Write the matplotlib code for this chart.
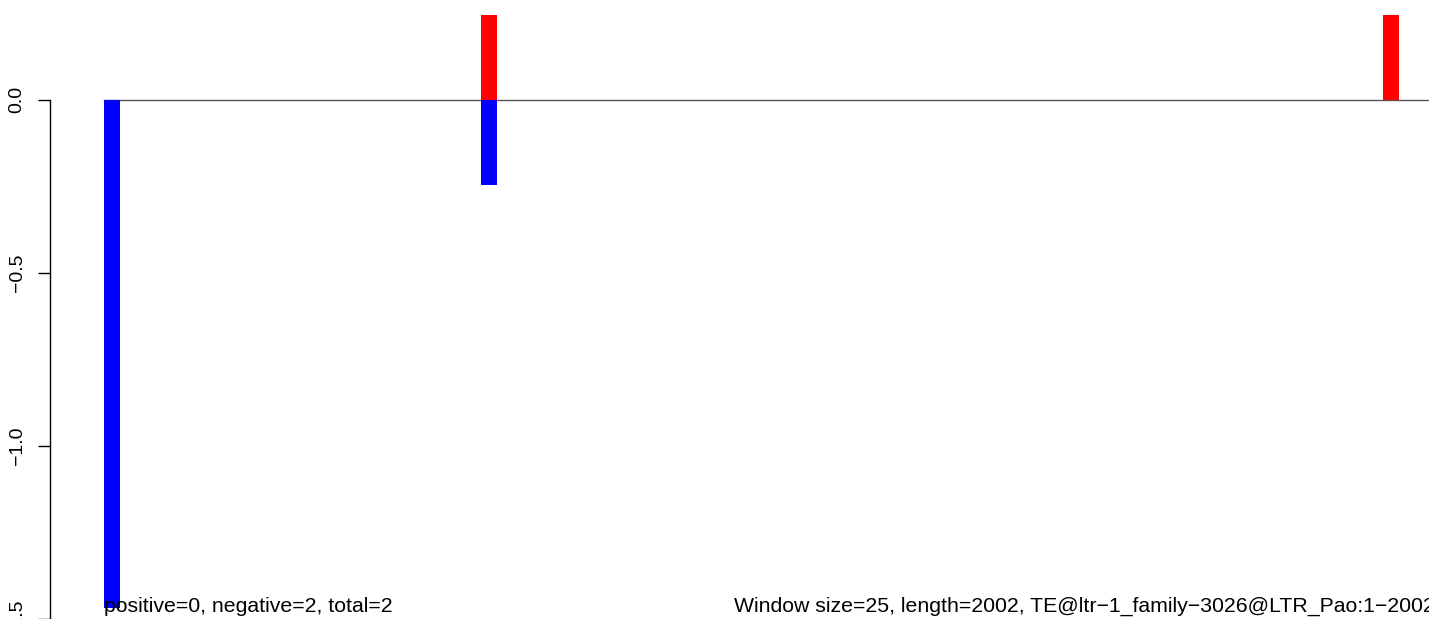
import matplotlib
matplotlib.use("Agg")
import matplotlib.pyplot as plt

# window start positions (nt) and scores per window
window_starts = [0, 582, 1975]
window_size = 25
seq_length = 2002
pos_scores = [0.0, 0.243, 0.243]
neg_scores = [-1.468, -0.246, 0.0]
y_ticks = [0.0, -0.5, -1.0, -1.5]
y_ticklabels = ["0.0", "\u22120.5", "\u22121.0", "\u22121.5"]
left_note = "positive=0, negative=2, total=2"
right_note = "Window size=25, length=2002, TE@ltr\u22121_family\u22123026@LTR_Pao:1\u22122002"

plt.rcParams["font.family"] = ["Liberation Sans", "DejaVu Sans"]

fig = plt.figure(figsize=(14.29, 6.19), dpi=100)
ax = fig.add_axes([0, 0, 1, 1])
ax.patch.set_alpha(0)

# pixel layout: x_px = 104 + pos * k ; y_px = 100.5 - val * s
k = (1383 - 104) / 1975
s = 349.3
ax.set_xlim(-104 / k, (1429 - 104) / k)
ax.set_ylim(-(619 - 100.5) / s, 100.5 / s)

ax.plot([0, seq_length + 200], [0, 0], color="#555555", lw=1.0, zorder=1)
ax.bar(window_starts, pos_scores, width=window_size, align="edge",
       color="#FF0000", linewidth=0, zorder=2)
ax.bar(window_starts, neg_scores, width=window_size, align="edge",
       color="#0000FF", linewidth=0, zorder=2)

for side in ["top", "right", "bottom"]:
    ax.spines[side].set_visible(False)
ax.spines["left"].set_position(("data", (50 - 104) / k))
ax.spines["left"].set_bounds(-1.5, 0.0)
ax.spines["left"].set_linewidth(1.0)
ax.set_xticks([])
ax.set_yticks(y_ticks)
ax.set_yticklabels(y_ticklabels, rotation=90, va="center")
ax.tick_params(axis="y", length=8.6, width=1.0, labelsize=14, pad=9)

fig.text(104 / 1429, 1 - 612 / 619, left_note, fontsize=15.3,
         ha="left", va="baseline")
fig.text(1435 / 1429, 1 - 612 / 619, right_note, fontsize=15.3,
         ha="right", va="baseline")

fig.savefig("out.png", dpi=100)
